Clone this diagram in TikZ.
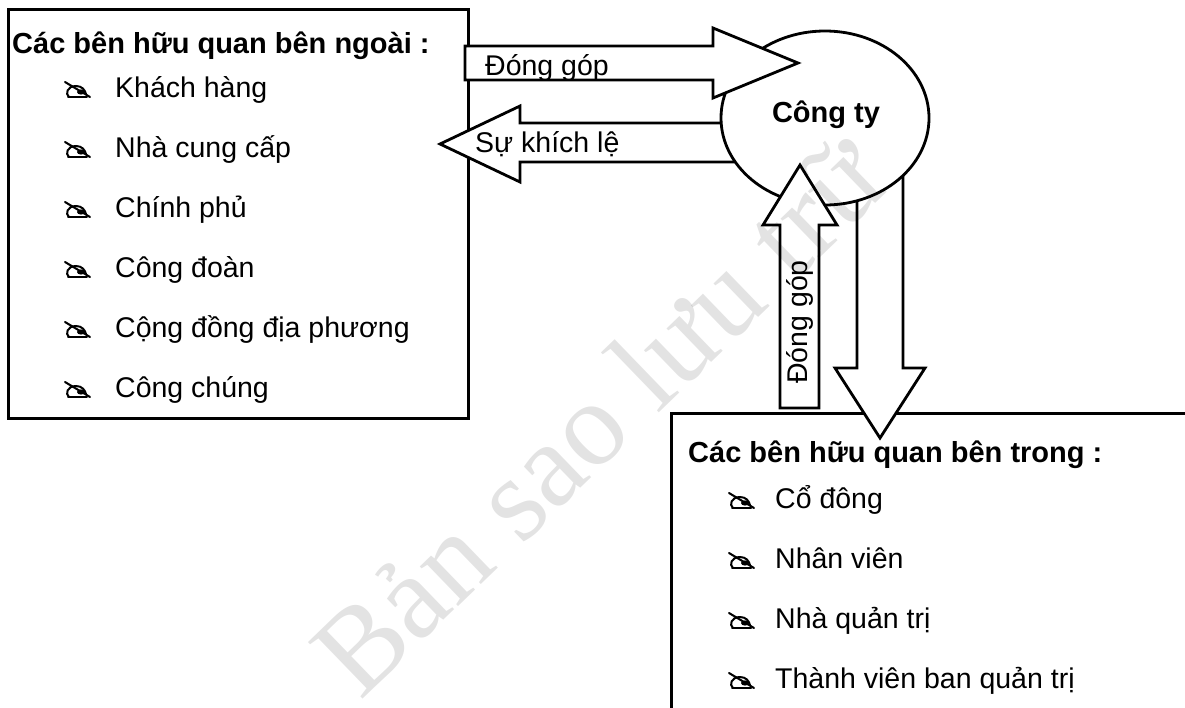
\documentclass[tikz,border=0pt]{standalone}
\usepackage{fontspec}
\setmainfont{Liberation Sans}
\newfontfamily\wmfont{Liberation Serif}
\usetikzlibrary{shapes.geometric}
\begin{document}
\begin{tikzpicture}[x=1pt,y=-1pt,
  boxframe/.style={draw, line width=2.8pt, inner sep=0pt},
  blockarrow/.style={draw, fill=white, line width=2.8pt, line join=miter},
  titletext/.style={font=\bfseries\fontsize{29}{32}\selectfont, inner sep=0pt},
  itemtext/.style={font=\fontsize{28.5}{32}\selectfont, inner sep=0pt},
  pics/penmark/.style={code={
    \draw[line width=2pt, line cap=round] (0,-15) -- (25,0);
    \draw[line width=2pt, line cap=round] (4,0) .. controls (0,-3) and (2,-11) .. (11,-11)
      .. controls (17,-11) and (20,-7) .. (21,-3);
    \draw[line width=2pt, line cap=round] (3,0) -- (22,0);
    \fill (16,-5) ellipse (4 and 2.6);
  }}
]
\useasboundingbox (0,0) rectangle (1185,707);
\clip (0,0) rectangle (1185,707);

% stakeholder boxes
\node[boxframe, anchor=north west, minimum width=460pt, minimum height=409pt] (outer) at (7,8) {};
\node[boxframe, anchor=north west, minimum width=540pt, minimum height=320pt] (inner) at (670,412) {};

% external stakeholders
\node[titletext, anchor=base west] (outtitle) at (12,53) {Các bên hữu quan bên ngoài :};
\foreach \t [count=\i] in {Khách hàng, Nhà cung cấp, Chính phủ, Công đoàn, Cộng đồng địa phương, Công chúng} {
  \pic at (65,{37+60*\i}) {penmark};
  \node[itemtext, anchor=base west] (out\i) at (115,{37+60*\i}) {\t};
}

% internal stakeholders
\node[titletext, anchor=base west] (intitle) at (688,462) {Các bên hữu quan bên trong :};
\foreach \t [count=\i] in {Cổ đông, Nhân viên, Nhà quản trị, Thành viên ban quản trị} {
  \pic at (729,{448+60*\i}) {penmark};
  \node[itemtext, anchor=base west] (in\i) at (775,{448+60*\i}) {\t};
}

% arrows that start under the company ellipse
\draw[blockarrow] (740,123) -- (520,123) -- (520,106) -- (440,144) -- (520,182) -- (520,162) -- (740,162) -- cycle;
\draw[blockarrow] (857,150) -- (857,368) -- (835,368) -- (880,438) -- (925,368) -- (903,368) -- (903,150) -- cycle;

% the company
\node[draw, ellipse, fill=white, line width=2.8pt, minimum width=208pt, minimum height=174pt, inner sep=0pt] (firm) at (825,118) {};
\node[titletext, anchor=base] (firmtext) at (826,122) {Công ty};

% arrows pointing into the company
\draw[blockarrow] (465,46) -- (713,46) -- (713,28) -- (798,63) -- (713,98) -- (713,80) -- (465,80) -- cycle;
\draw[blockarrow] (780,408) -- (780,225) -- (763,225) -- (800,165) -- (837,225) -- (819,225) -- (819,408) -- cycle;

% arrow labels
\node[itemtext, anchor=base west] (give1) at (485,75) {Đóng góp};
\node[itemtext, anchor=base west] (reward) at (475,152) {Sự khích lệ};
\node[itemtext, rotate=90] (give2) at (800,322) {Đóng góp};

% watermark
\node[font=\wmfont\fontsize{120}{120}\selectfont, text=black, text opacity=0.11, rotate=44, inner sep=0pt] (wm) at (598,415) {Bản sao lưu trữ};
\end{tikzpicture}
\end{document}
